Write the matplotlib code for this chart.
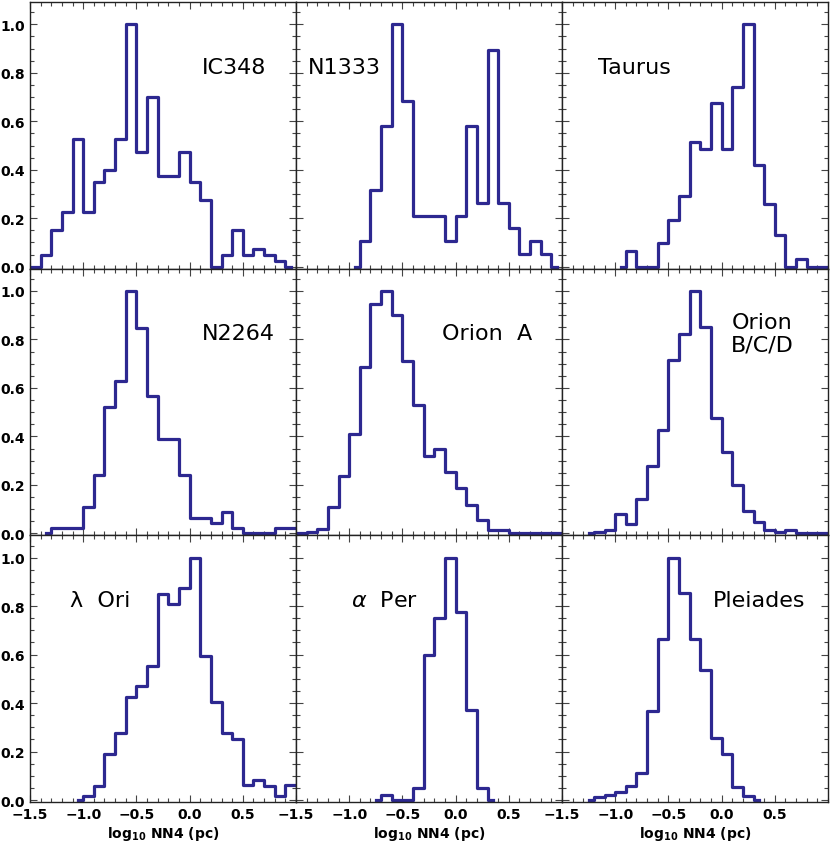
import numpy as np
import matplotlib
matplotlib.use("Agg")
import matplotlib.pyplot as plt
from matplotlib.ticker import MultipleLocator, FixedLocator

# panel labels (row by row)
names = ["IC348", "N1333", "Taurus",
         "N2264", "Orion  A", "Orion\nB/C/D",
         "λ  Ori", "$\\alpha$  Per", "Pleiades"]

# centre of the first histogram bin in each panel (bins are 0.1 dex wide)
starts = [-1.55, -0.95, -0.95,
          -1.35, -1.55, -1.25,
          -1.05, -0.75, -1.25]

# normalised histogram heights
ic348 = [0, 0, 0.05, 0.15, 0.225, 0.525, 0.225, 0.35, 0.40, 0.525, 1.0,
         0.475, 0.70, 0.375, 0.375, 0.475, 0.35, 0.275, 0, 0.05, 0.15,
         0.05, 0.075, 0.05, 0.025, 0]
n1333 = [0, 0.105, 0.316, 0.579, 1.0, 0.684, 0.21, 0.21, 0.21, 0.105,
         0.21, 0.579, 0.263, 0.895, 0.263, 0.158, 0.053, 0.105, 0.053, 0]
taurus = [0, 0.065, 0, 0, 0.097, 0.194, 0.29, 0.516, 0.484, 0.677, 0.484,
          0.742, 1.0, 0.419, 0.258, 0.129, 0, 0.032, 0, 0, 0]
n2264 = [0, 0.022, 0.022, 0.022, 0.109, 0.239, 0.522, 0.63, 1.0, 0.848,
         0.565, 0.391, 0.391, 0.239, 0.065, 0.065, 0.043, 0.087, 0.022,
         0, 0, 0, 0.022, 0.022, 0.022]
oriona = [0, 0, 0.007, 0.02, 0.11, 0.236, 0.41, 0.687, 0.946, 1.0, 0.90,
          0.71, 0.53, 0.32, 0.35, 0.255, 0.186, 0.117, 0.055, 0.015, 0.015,
          0.003, 0.003, 0.003, 0.003, 0.003, 0.003]
orionbcd = [0, 0.007, 0.012, 0.08, 0.039, 0.142, 0.277, 0.425, 0.714,
            0.822, 1.0, 0.852, 0.477, 0.335, 0.2, 0.094, 0.046, 0.012,
            0.007, 0.012, 0.003, 0.003, 0.003, 0]
lamori = [0, 0.018, 0.06, 0.19, 0.276, 0.425, 0.47, 0.555, 0.852, 0.807,
          0.873, 1.0, 0.594, 0.404, 0.276, 0.252, 0.062, 0.084, 0.06,
          0.018, 0.062, 0.062]
alphaper = [0, 0.02, 0, 0, 0.05, 0.597, 0.749, 1.0, 0.774, 0.372, 0.05, 0]
pleiades = [0, 0.011, 0.022, 0.032, 0.057, 0.11, 0.367, 0.666, 1.0, 0.855,
            0.666, 0.535, 0.255, 0.188, 0.052, 0.018, 0]

hists = [ic348, n1333, taurus, n2264, oriona, orionbcd, lamori, alphaper, pleiades]

# label anchor (centre) in data coords
label_x = [0.42, -1.05, -0.82,
           0.46, 0.30, 0.38,
           -0.84, -0.67, 0.35]
label_y = 0.825

xticks = [-1.5, -1.0, -0.5, 0.0, 0.5]
yticks = [0.0, 0.2, 0.4, 0.6, 0.8, 1.0]

color = "#2d2890"

plt.rcParams["font.family"] = ["DejaVu Sans"]

fig, axes = plt.subplots(3, 3, figsize=(8.3, 8.45), dpi=100)
plt.subplots_adjust(left=30/830, right=828/830, bottom=1-803/845, top=1-3/845,
                    wspace=0, hspace=0)

for i, ax in enumerate(axes.flat):
    vals = np.array(hists[i])
    x = starts[i] + 0.1*np.arange(len(vals))
    ax.step(x, vals, where="mid", color=color, lw=2.3)
    ax.set_xlim(-1.5, 1.0)
    ax.set_ylim(-0.008, 1.092)
    ax.xaxis.set_major_locator(FixedLocator(xticks))
    ax.xaxis.set_minor_locator(MultipleLocator(0.1))
    ax.yaxis.set_major_locator(FixedLocator(yticks))
    ax.yaxis.set_minor_locator(MultipleLocator(0.05))
    ax.tick_params(which="both", direction="in", top=True, right=True,
                   color="#444444", width=0.8)
    ax.tick_params(which="major", length=5)
    ax.tick_params(which="minor", length=3)
    row, col = divmod(i, 3)
    if col == 0:
        ax.set_yticklabels(["%.1f" % v for v in yticks],
                           fontweight="bold", fontsize=10)
    else:
        ax.tick_params(labelleft=False)
    if row == 2:
        ax.set_xticklabels(["\u2212%.1f" % -v if v < 0 else "%.1f" % v for v in xticks],
                           fontweight="bold", fontsize=10)
        ax.set_xlabel("log$_{\\mathbf{10}}$ NN4 (pc)", fontweight="bold",
                      fontsize=10, labelpad=2)
    else:
        ax.tick_params(labelbottom=False)
    for s in ax.spines.values():
        s.set_color("#222222")
        s.set_linewidth(1.0)
    ax.text(label_x[i], label_y, names[i], fontsize=16, ha="center",
            va="center", linespacing=1.15)

fig.savefig("out.png", dpi=100)
